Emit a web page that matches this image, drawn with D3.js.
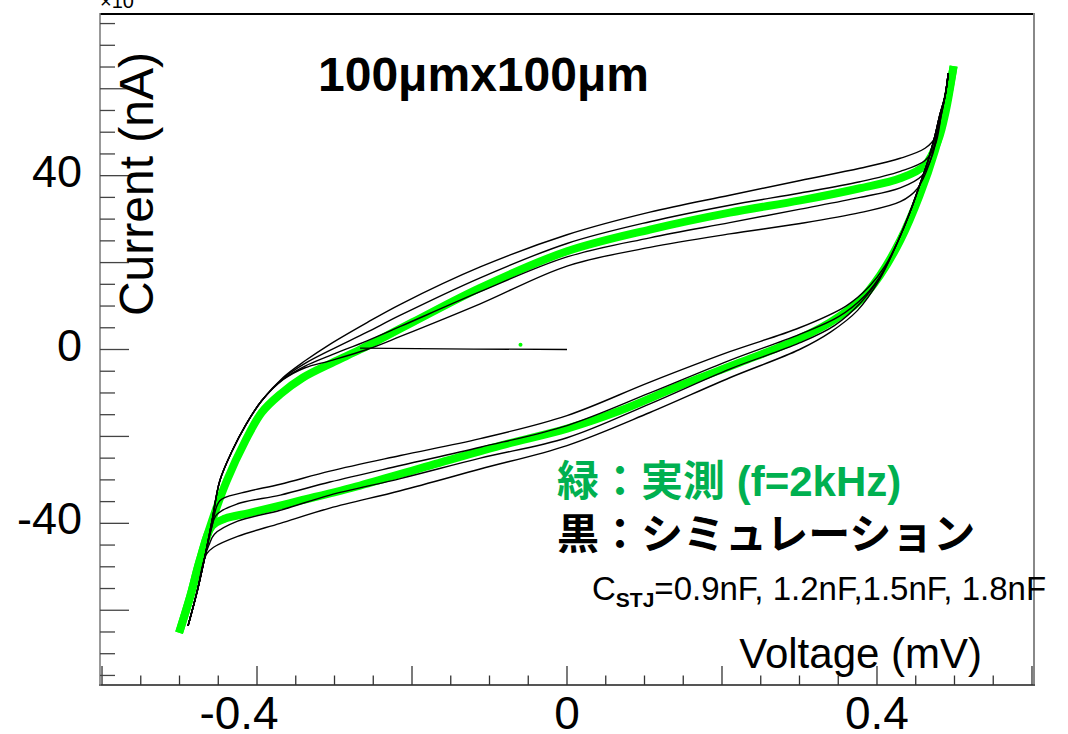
<!DOCTYPE html>
<html><head><meta charset="utf-8">
<script src="https://cdn.jsdelivr.net/npm/d3@7"></script>
<style>body{margin:0;background:#fff;}svg{display:block;}</style>
</head><body>
<svg id="chart" width="1068" height="734"></svg>
<script>
// ---- data (Voltage mV, Current nA) ----
const xTickLabels = [-0.4, 0, 0.4];
const yTickLabels = [-40, 0, 40];
const capacitances = ["0.9nF", "1.2nF", "1.5nF", "1.8nF"];

// measured (green), f = 2 kHz
const measUpper = [[-0.499,-64.3],[-0.486,-56.7],[-0.474,-48.6],[-0.458,-39.4],[-0.439,-30.2],[-0.415,-21.0],[-0.394,-14.5],[-0.370,-10.3],[-0.341,-6.5],[-0.300,-2.8],[-0.267,0],[-0.199,6.3],[-0.112,14.2],[0,22.6],[0.107,27.6],[0.210,31.5],[0.301,34.3],[0.378,37.1],[0.430,39.4],[0.462,42.4],[0.479,48.2],[0.489,55.1],[0.498,64.3]];
const measLower = [[0.498,64.3],[0.488,55.1],[0.475,45.9],[0.455,35.5],[0.430,25.1],[0.404,17.1],[0.378,11.3],[0.339,6.2],[0.288,1.6],[0.223,-3.0],[0.146,-8.3],[0.068,-14.1],[0,-18.2],[-0.086,-22.1],[-0.177,-26.7],[-0.267,-31.3],[-0.345,-34.8],[-0.409,-37.6],[-0.441,-38.9],[-0.458,-40.6],[-0.474,-48.6],[-0.486,-56.7],[-0.499,-64.3]];
const measStray = [[-0.06,1.1]];

// simulation (black), one upper and one lower branch per capacitance
const sim09Upper = [[-0.489,-63.6],[-0.477,-55.5],[-0.467,-47.5],[-0.458,-39.4],[-0.448,-30.2],[-0.432,-23.3],[-0.415,-17.5],[-0.394,-11.8],[-0.366,-6.9],[-0.338,-4.2],[-0.306,-2.6],[-0.258,0.0],[-0.215,3.0],[-0.112,10.5],[0,19.2],[0.107,23.5],[0.210,26.6],[0.301,29.0],[0.378,31.5],[0.430,34.0],[0.452,37.0],[0.468,43.0],[0.481,53.0],[0.488,58.5],[0.492,63.6]];
const sim12Upper = [[-0.489,-63.6],[-0.477,-55.5],[-0.467,-47.5],[-0.458,-39.4],[-0.448,-30.2],[-0.432,-23.3],[-0.415,-17.5],[-0.394,-11.8],[-0.366,-6.8],[-0.338,-3.8],[-0.306,-1.4],[-0.258,2.0],[-0.215,5.3],[-0.112,13.3],[0,21.3],[0.107,25.7],[0.210,29.2],[0.301,32.3],[0.378,35.0],[0.430,37.2],[0.458,40.0],[0.472,45.0],[0.481,53.0],[0.488,58.5],[0.492,63.6]];
const sim15Upper = [[-0.489,-63.6],[-0.477,-55.5],[-0.467,-47.5],[-0.458,-39.4],[-0.448,-30.2],[-0.432,-23.3],[-0.415,-17.5],[-0.394,-11.8],[-0.366,-6.6],[-0.338,-3.2],[-0.306,-0.2],[-0.258,4.0],[-0.215,7.9],[-0.112,16.5],[0,24.4],[0.107,29.4],[0.210,33.2],[0.301,36.0],[0.378,38.6],[0.430,41.0],[0.462,43.5],[0.475,47.0],[0.483,54.0],[0.488,58.5],[0.492,63.6]];
const sim18Upper = [[-0.489,-63.6],[-0.477,-55.5],[-0.467,-47.5],[-0.458,-39.4],[-0.448,-30.2],[-0.432,-23.3],[-0.415,-17.5],[-0.394,-11.8],[-0.366,-6.4],[-0.338,-2.6],[-0.306,1.2],[-0.258,6.2],[-0.215,10.4],[-0.112,19.0],[0,26.4],[0.107,31.6],[0.210,35.5],[0.301,38.9],[0.378,41.7],[0.430,44.0],[0.462,46.3],[0.476,49.0],[0.483,54.0],[0.488,58.5],[0.492,63.6]];

const sim09Lower = [[0.492,63.6],[0.488,58.5],[0.481,53.9],[0.475,49.3],[0.466,43.5],[0.455,37.8],[0.443,31.8],[0.427,24.9],[0.410,19.1],[0.390,14.5],[0.360,10.0],[0.300,5.0],[0.210,-0.5],[0.107,-7.5],[0,-15.2],[-0.112,-20.5],[-0.215,-24.4],[-0.306,-28.0],[-0.370,-31.0],[-0.420,-33.0],[-0.448,-34.8],[-0.458,-40.6],[-0.467,-47.5],[-0.477,-55.5],[-0.489,-63.6]];
const sim12Lower = [[0.492,63.6],[0.488,58.5],[0.481,53.9],[0.475,49.3],[0.466,43.5],[0.455,37.8],[0.443,31.8],[0.427,24.9],[0.408,18.0],[0.385,12.5],[0.350,7.5],[0.300,3.5],[0.210,-2.5],[0.107,-10.0],[0,-17.5],[-0.112,-22.5],[-0.215,-26.7],[-0.306,-30.5],[-0.370,-33.5],[-0.425,-35.5],[-0.452,-38.0],[-0.460,-42.0],[-0.467,-47.5],[-0.477,-55.5],[-0.489,-63.6]];
const sim15Lower = [[0.492,63.6],[0.488,58.5],[0.481,53.9],[0.475,49.3],[0.466,43.5],[0.455,37.8],[0.443,31.8],[0.427,24.9],[0.405,17.0],[0.380,11.0],[0.345,5.5],[0.300,1.5],[0.210,-4.5],[0.107,-12.5],[0,-20.3],[-0.112,-25.0],[-0.215,-29.7],[-0.306,-33.5],[-0.370,-37.0],[-0.425,-39.5],[-0.455,-42.5],[-0.462,-45.0],[-0.467,-47.5],[-0.477,-55.5],[-0.489,-63.6]];
const sim18Lower = [[0.492,63.6],[0.488,58.5],[0.481,53.9],[0.475,49.3],[0.466,43.5],[0.455,37.8],[0.443,31.8],[0.427,24.9],[0.403,16.0],[0.375,9.0],[0.340,4.0],[0.300,0.0],[0.210,-6.5],[0.107,-14.5],[0,-22.1],[-0.112,-27.5],[-0.215,-32.5],[-0.306,-36.5],[-0.370,-40.0],[-0.425,-43.0],[-0.456,-45.5],[-0.465,-47.0],[-0.470,-49.5],[-0.477,-55.5],[-0.489,-63.6]];
const simStart = [[0,0],[-0.12,0.1],[-0.267,0.3]];

// ---- layout ----
const svg = d3.select("#chart");
const FONT = "'Liberation Sans', Arial, Helvetica, sans-serif";
const x = d3.scaleLinear().domain([-0.6026, 0.6026]).range([100, 1034]);
const y = d3.scaleLinear().domain([-77.2, 77.2]).range([685, 14]);

const line = d3.line().x(d => x(d[0])).y(d => y(d[1])).curve(d3.curveCatmullRom.alpha(0.5));

// exponent fragment clipped at the top (as in the reference)
svg.append("text").attr("x", 100).attr("y", 8).attr("font-family", FONT).attr("font-size", 20).attr("fill", "#000").text("×10");

// measured (green) under simulated (black)
const gM = svg.append("g");
[measUpper, measLower].forEach(s => gM.append("path").attr("d", line(s)).attr("fill", "none").attr("stroke", "#00ff00").attr("stroke-width", 8).attr("stroke-linejoin", "round").attr("stroke-linecap", "square"));
gM.selectAll("circle").data(measStray).join("circle").attr("cx", d => x(d[0])).attr("cy", d => y(d[1])).attr("r", 2).attr("fill", "#00ff00");

const gS = svg.append("g");
[sim09Upper, sim12Upper, sim15Upper, sim18Upper, sim09Lower, sim12Lower, sim15Lower, sim18Lower].forEach(s =>
  gS.append("path").attr("d", line(s)).attr("fill", "none").attr("stroke", "#000").attr("stroke-width", 1.4));
gS.append("path").attr("d", d3.line().x(d => x(d[0])).y(d => y(d[1]))(simStart)).attr("fill", "none").attr("stroke", "#000").attr("stroke-width", 1.3);

// frame
svg.append("line").attr("x1", 100).attr("x2", 1035).attr("y1", 14).attr("y2", 14).attr("stroke", "#000").attr("stroke-width", 2);
svg.append("line").attr("x1", 1034).attr("x2", 1034).attr("y1", 13).attr("y2", 686).attr("stroke", "#888").attr("stroke-width", 2);
svg.append("line").attr("x1", 99).attr("x2", 1035).attr("y1", 685).attr("y2", 685).attr("stroke", "#555").attr("stroke-width", 2);
svg.append("line").attr("x1", 100).attr("x2", 100).attr("y1", 13).attr("y2", 686).attr("stroke", "#777").attr("stroke-width", 1.5);

// ticks
const xMinor = d3.range(-60, 61, 5).map(v => v / 100).filter(v => v >= -0.6026 && v <= 0.6026);
svg.append("g").selectAll("line").data(xMinor).join("line")
  .attr("x1", d => x(d)).attr("x2", d => x(d)).attr("y1", 685)
  .attr("y2", d => Math.abs(Math.round(d * 100) % 20) === 0 ? 666 : 675.5)
  .attr("stroke", "#333").attr("stroke-width", 1.3);
const yMinor = d3.range(-75, 76, 5);
svg.append("g").selectAll("line").data(yMinor).join("line")
  .attr("y1", d => y(d)).attr("y2", d => y(d)).attr("x1", 100)
  .attr("x2", d => d % 20 === 0 ? 129 : 115)
  .attr("stroke", "#444").attr("stroke-width", 1.3);

// tick labels
svg.append("g").selectAll("text").data(xTickLabels).join("text")
  .attr("x", d => x(d) - (d < 0 ? 18 : 0)).attr("y", 729).attr("text-anchor", "middle")
  .attr("font-family", FONT).attr("font-size", 46).attr("fill", "#000")
  .text(d => d === 0 ? "0" : d3.format(".1f")(d).replace("−", "-"));
svg.append("g").selectAll("text").data(yTickLabels).join("text")
  .attr("x", 82).attr("y", d => y(d) + 11).attr("text-anchor", "end")
  .attr("font-family", FONT).attr("font-size", 45).attr("fill", "#000")
  .text(d => String(d));

// axis titles
svg.append("text").attr("x", 982).attr("y", 668).attr("text-anchor", "end")
  .attr("font-family", FONT).attr("font-size", 42).attr("fill", "#000").text("Voltage (mV)");
svg.append("text").attr("transform", "translate(153,52) rotate(-90)").attr("text-anchor", "end")
  .attr("font-family", FONT).attr("font-size", 48).attr("fill", "#000").text("Current (nA)");

// title
svg.append("text").attr("x", 318).attr("y", 91).attr("font-family", FONT).attr("font-weight", "bold")
  .attr("font-size", 48).attr("fill", "#000").text("100μmx100μm");

// legend text
const JFONT = "'Liberation Sans', 'Noto Sans CJK JP', sans-serif";
svg.append("text").attr("x", 557).attr("y", 496).attr("font-family", JFONT).attr("font-weight", "bold")
  .attr("font-size", 42).attr("fill", "#00b050").text("緑：実測 (f=2kHz)");
svg.append("text").attr("x", 557).attr("y", 549).attr("font-family", JFONT).attr("font-weight", "bold")
  .attr("font-size", 42).attr("fill", "#000").text("黒：シミュレーション");
const cap = svg.append("text").attr("x", 592).attr("y", 600).attr("font-family", FONT).attr("font-size", 33).attr("fill", "#000");
cap.append("tspan").text("C");
cap.append("tspan").attr("font-size", 21).attr("font-weight", "bold").attr("dy", 7).text("STJ");
cap.append("tspan").attr("dy", -7).text("=" + capacitances[0] + ", " + capacitances[1] + "," + capacitances[2] + ", " + capacitances[3]);
</script>
</body></html>
